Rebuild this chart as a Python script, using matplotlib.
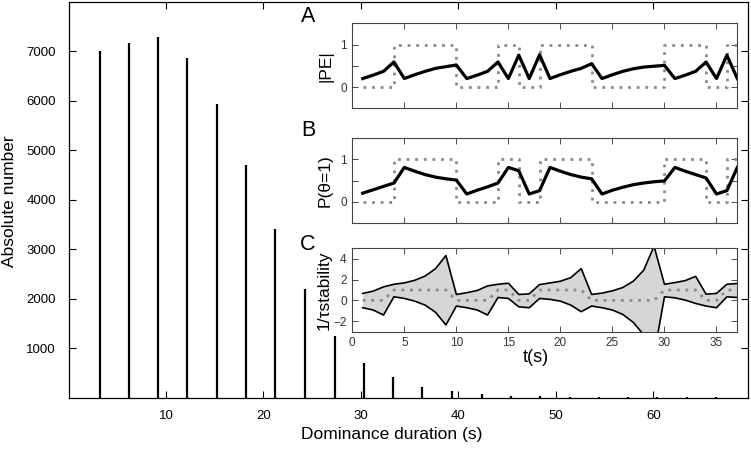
import matplotlib
matplotlib.use('Agg')
import matplotlib.pyplot as plt

plt.rcParams['font.family'] = ['Liberation Sans', 'DejaVu Sans']

# histogram of dominance durations
durations = [3.2, 6.2, 9.2, 12.2, 15.2, 18.2, 21.2, 24.3, 27.3, 30.3, 33.3,
             36.3, 39.3, 42.4, 45.4, 48.4, 51.4, 54.4, 57.4, 60.4, 63.4, 66.4]
counts = [7010, 7180, 7290, 6870, 5930, 4710, 3400, 2190, 1250, 690, 420,
          215, 130, 70, 38, 24, 15, 10, 7, 5, 3, 2]

# inset time series
t = list(range(1, 38))
theta = [0, 0, 0, 1, 1, 1, 1, 1, 1, 0, 0, 0, 0, 1, 1, 0, 0, 1, 1, 1, 1, 1,
         0, 0, 0, 0, 0, 0, 0, 1, 1, 1, 1, 0, 0, 1, 1]
pe = [0.20, 0.28, 0.37, 0.59, 0.20, 0.29, 0.37, 0.44, 0.48, 0.52, 0.20, 0.28,
      0.37, 0.59, 0.20, 0.75, 0.20, 0.76, 0.20, 0.29, 0.37, 0.44, 0.55, 0.20,
      0.29, 0.37, 0.43, 0.47, 0.49, 0.51, 0.20, 0.28, 0.37, 0.59, 0.20, 0.75, 0.20]
p_theta = [0.20, 0.28, 0.36, 0.44, 0.81, 0.72, 0.64, 0.58, 0.54, 0.51, 0.18, 0.27,
           0.35, 0.44, 0.81, 0.73, 0.18, 0.26, 0.81, 0.72, 0.64, 0.58, 0.54, 0.18,
           0.27, 0.34, 0.40, 0.44, 0.47, 0.49, 0.81, 0.72, 0.64, 0.56, 0.18, 0.26, 0.81]
stab_upper = [0.67, 0.89, 1.30, 1.55, 1.68, 1.93, 2.34, 3.05, 4.30, 0.57, 0.74, 0.95,
              1.39, 1.55, 1.65, 0.57, 0.63, 1.52, 1.68, 1.84, 2.19, 3.05, 0.57, 0.70,
              0.92, 1.24, 1.84, 2.89, 5.20, 1.55, 1.71, 1.90, 2.31, 0.60, 0.67, 1.55, 1.62]
stab_lower = [-0.70, -0.92, -1.40, 0.35, 0.19, -0.07, -0.45, -1.14, -2.35, -0.54, -0.70, -0.92,
              -1.40, 0.28, 0.19, -0.61, -0.70, 0.19, 0.10, -0.07, -0.45, -1.08, -0.54, -0.70,
              -0.92, -1.35, -2.10, -3.30, -5.20, 0.35, 0.25, 0.03, -0.29, -0.54, -0.70, 0.35, 0.28]

W, H = 751, 453


def box(left, top, right, bottom):
    # pixel box -> figure fraction
    return [left / W, 1 - bottom / H, (right - left) / W, (bottom - top) / H]


fig = plt.figure(figsize=(W / 100, H / 100), dpi=100)

# --- main histogram ---
ax = fig.add_axes(box(68.5, 2, 748, 397.5))
ax.vlines(durations, 0, counts, color='black', lw=1.6)
ax.set_xlim(0, 69.7)
ax.set_ylim(0, 8000)
ax.set_xticks([10, 20, 30, 40, 50, 60])
ax.set_yticks([1000, 2000, 3000, 4000, 5000, 6000, 7000])
ax.tick_params(direction='in', length=5, width=0.8, top=True, right=True,
               labelsize=9.5, pad=9)
for s in ax.spines.values():
    s.set_linewidth(0.9)
fig.text(392 / W, 1 - 435 / H, 'Dominance duration (s)', fontsize=12.5,
         ha='center', va='center')
fig.text(10 / W, 1 - 201 / H, 'Absolute number', fontsize=12.5,
         ha='center', va='center', rotation=90)

grey = '#8a8a8a'
dot = (0, (1, 2.1))


def style_inset(a):
    a.set_xlim(0, 37)
    a.tick_params(direction='in', length=4, width=0.6, top=True, right=True,
                  labelsize=8.5, pad=4, colors='#333333')
    for s in a.spines.values():
        s.set_linewidth(0.8)
        s.set_color('#444444')


# --- A: |PE| ---
axA = fig.add_axes(box(352.3, 23.3, 737.3, 108.3))
axA.step(t, theta, where='post', color=grey, lw=2.0, linestyle=dot)
axA.plot(t, pe, color='black', lw=2.3)
axA.set_ylim(-0.5, 1.5)
axA.set_yticks([0, 0.5, 1])
axA.set_yticklabels(['0', '', '1'])
axA.set_xticks([5, 10, 15, 20, 25, 30, 35])
axA.set_xticklabels([])
style_inset(axA)

# --- B: P(theta=1) ---
axB = fig.add_axes(box(352.3, 138.3, 737.3, 222.7))
axB.step(t, theta, where='post', color=grey, lw=2.0, linestyle=dot)
axB.plot(t, p_theta, color='black', lw=2.3)
axB.set_ylim(-0.5, 1.5)
axB.set_yticks([0, 0.5, 1])
axB.set_yticklabels(['0', '', '1'])
axB.set_xticks([5, 10, 15, 20, 25, 30, 35])
axB.set_xticklabels([])
style_inset(axB)

# --- C: 1/tau stability ---
axC = fig.add_axes(box(352.3, 248.3, 737.3, 331.7))
axC.fill_between(t, stab_lower, stab_upper, color='#d6d6d6', lw=0)
axC.plot(t, stab_upper, color='black', lw=1.2)
axC.plot(t, stab_lower, color='black', lw=1.2)
axC.plot(t, theta, color=grey, lw=2.0, linestyle=dot)
axC.set_ylim(-3, 5)
axC.set_yticks([-2, 0, 2, 4])
axC.set_xticks([0, 5, 10, 15, 20, 25, 30, 35])
style_inset(axC)
fig.text(536 / W, 1 - 357 / H, 't(s)', fontsize=13, ha='center', va='center')

fig.text(326 / W, 1 - 66 / H, '|PE|', fontsize=12.5, ha='center', va='center', rotation=90)
fig.text(325 / W, 1 - 181 / H, 'P(θ=1)', fontsize=12.5, ha='center', va='center', rotation=90)
fig.text(324 / W, 1 - 290 / H, '1/τstability', fontsize=12.5, ha='center', va='center', rotation=90)

for lab, y in [('A', 17), ('B', 131), ('C', 245)]:
    fig.text(308 / W, 1 - y / H, lab, fontsize=15.5, ha='center', va='center')

fig.savefig('out.png', dpi=100)
